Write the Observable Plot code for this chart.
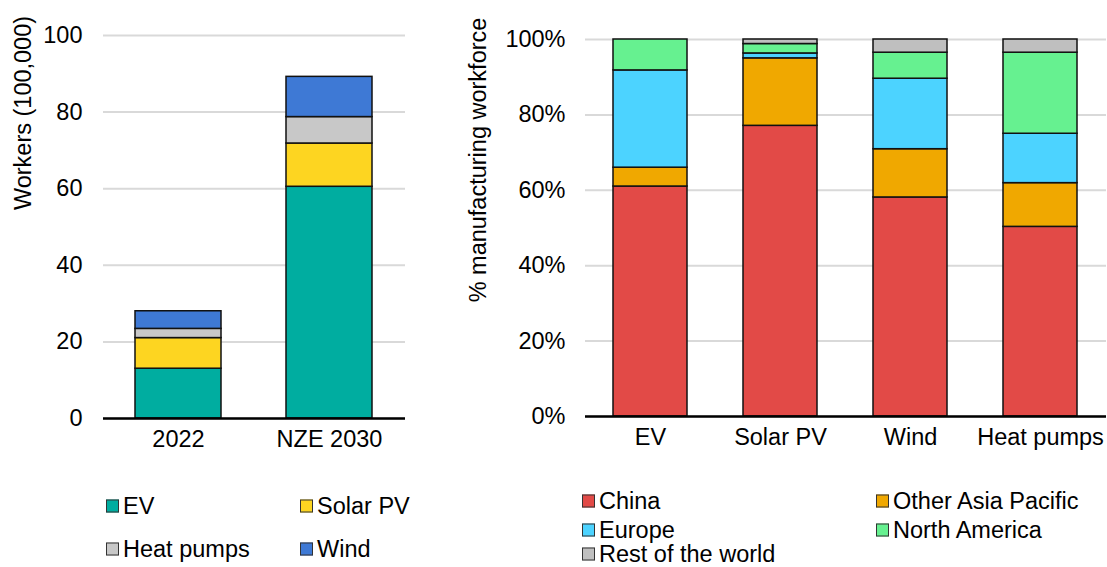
<!DOCTYPE html>
<html>
<head>
<meta charset="utf-8">
<script src="https://cdn.jsdelivr.net/npm/d3@7"></script>
<script src="https://cdn.jsdelivr.net/npm/@observablehq/plot@0.6"></script>
<style>
  html, body { margin: 0; padding: 0; background: #fff; }
  #root { position: relative; width: 1107px; height: 567px; overflow: hidden; font-family: "Liberation Sans", Arial, sans-serif; color: #000; }
  .chart { position: absolute; top: 0; }
  .ytitle { position: absolute; font-size: 23.5px; white-space: nowrap; transform: translate(-50%, -50%) rotate(-90deg); }
  .leg { position: absolute; font-size: 23.5px; white-space: nowrap; display: flex; align-items: center; transform: translateY(-50%); }
  .sw { width: 11px; height: 11px; border: 1px solid #333; margin-right: 4px; display: inline-block; }
</style>
</head>
<body>
<div id="root"></div>
<script>
// ---- Left chart data ----
const years = ["2022", "NZE 2030"];
const techs = ["EV", "Solar PV", "Heat pumps", "Wind"];
const workers2022 = [13, 8, 2.4, 4.6];
const workersNZE2030 = [60.5, 11.3, 6.9, 10.5];
const techColors = ["#00ADA0", "#FDD521", "#C8C8C8", "#3E79D5"];
const leftTicks = [0, 20, 40, 60, 80, 100];

// ---- Right chart data ----
const sectors = ["EV", "Solar PV", "Wind", "Heat pumps"];
const regions = ["China", "Other Asia Pacific", "Europe", "North America", "Rest of the world"];
const china = [61, 77.1, 58.1, 50.3];
const otherAsiaPacific = [5, 17.9, 12.8, 11.6];
const europe = [25.8, 1.3, 18.7, 13.1];
const northAmerica = [8.2, 2.5, 6.9, 21.5];
const restOfWorld = [0, 1.2, 3.5, 3.5];
const regionColors = ["#E24A47", "#F0A800", "#4CD3FF", "#66F190", "#BFBFBF"];
const rightTicks = [0, 20, 40, 60, 80, 100];

const root = document.getElementById("root");
const font = {fontFamily: "'Liberation Sans', Arial, sans-serif", fontSize: "23.5px", color: "#000", background: "transparent", overflow: "visible"};

// left table
const leftData = [];
[workers2022, workersNZE2030].forEach((vals, i) => {
  techs.forEach((t, j) => leftData.push({year: years[i], tech: t, value: vals[j]}));
});

const left = Plot.plot({
  width: 420, height: 460,
  marginLeft: 103, marginRight: 15, marginTop: 35, marginBottom: 42,
  style: font,
  x: {domain: years, paddingInner: 0.43, paddingOuter: 0.215, label: null, tickSize: 0, tickPadding: 12},
  y: {domain: [0, 100], ticks: leftTicks, label: null, tickSize: 0, tickPadding: 21},
  color: {domain: techs, range: techColors},
  marks: [
    Plot.gridY(leftTicks, {stroke: "#d9d9d9", strokeOpacity: 1, strokeWidth: 2}),
    Plot.barY(leftData, {x: "year", y: "value", fill: "tech", stroke: "#111", strokeWidth: 1.5}),
    Plot.ruleY([0], {stroke: "#000", strokeWidth: 2.5})
  ]
});
left.classList.add("chart");
left.style.left = "0px";
root.appendChild(left);

// right table
const rightData = [];
const regionVals = [china, otherAsiaPacific, europe, northAmerica, restOfWorld];
sectors.forEach((s, i) => {
  regions.forEach((r, j) => {
    if (regionVals[j][i] > 0) rightData.push({sector: s, region: r, value: regionVals[j][i]});
  });
});

const right = Plot.plot({
  width: 667, height: 460,
  marginLeft: 145, marginRight: 1, marginTop: 39, marginBottom: 44,
  style: font,
  x: {domain: sectors, paddingInner: 0.43, paddingOuter: 0.215, label: null, tickSize: 0, tickPadding: 12},
  y: {domain: [0, 100], ticks: rightTicks, label: null, tickSize: 0, tickPadding: 20, tickFormat: d => d + "%"},
  color: {domain: regions, range: regionColors},
  marks: [
    Plot.gridY(rightTicks, {stroke: "#d9d9d9", strokeOpacity: 1, strokeWidth: 2}),
    Plot.barY(rightData, {x: "sector", y: "value", fill: "region", stroke: "#111", strokeWidth: 1.5}),
    Plot.ruleY([0], {stroke: "#000", strokeWidth: 2.5})
  ]
});
right.classList.add("chart");
right.style.left = "440px";
root.appendChild(right);

// axis titles
function ytitle(text, x, y) {
  const d = document.createElement("div");
  d.className = "ytitle";
  d.textContent = text;
  d.style.left = x + "px";
  d.style.top = y + "px";
  root.appendChild(d);
}
ytitle("Workers (100,000)", 23, 113);
ytitle("% manufacturing workforce", 478, 160);

// legends
function legendItem(label, color, x, y) {
  const d = document.createElement("div");
  d.className = "leg";
  d.style.left = x + "px";
  d.style.top = y + "px";
  const s = document.createElement("span");
  s.className = "sw";
  s.style.background = color;
  d.appendChild(s);
  d.appendChild(document.createTextNode(label));
  root.appendChild(d);
}
const leftLegPos = [[106, 506], [300, 506], [106, 549], [300, 549]];
techs.forEach((t, i) => legendItem(t, techColors[i], leftLegPos[i][0], leftLegPos[i][1]));
const rightLegPos = [[582, 501], [876, 501], [582, 530], [876, 530], [582, 554]];
regions.forEach((r, i) => legendItem(r, regionColors[i], rightLegPos[i][0], rightLegPos[i][1]));
</script>
</body>
</html>
